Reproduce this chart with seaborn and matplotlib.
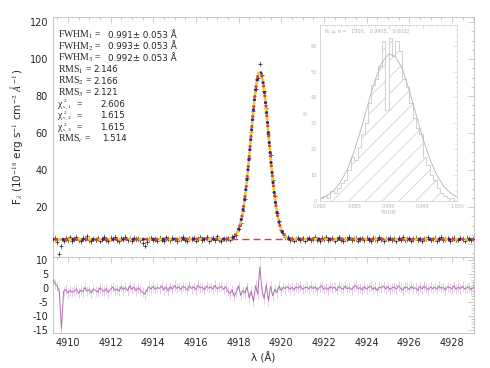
import numpy as np
import pandas as pd
import seaborn as sns
import matplotlib.pyplot as plt
from matplotlib.ticker import MultipleLocator, FuncFormatter

# spectrum grid (Angstrom)
wave_start = 4909.3
wave_step = 0.1

# observed flux, 10^-18 erg/s/cm2/A
flux = [
    2.8, 3.4, 1.2, -5.2, -1.0, 1.9, 3.1, 2.2, 3.6, 1.8,
    2.6, 3.9, 2.0, 1.4, 3.2, 2.9, 4.1, 2.3, 1.7, 3.0,
    2.4, 3.5, 1.9, 2.8, 3.7, 2.1, 1.6, 3.3, 2.7, 4.0,
    2.2, 1.8, 3.1, 2.5, 3.8, 2.0, 2.9, 1.5, 3.4, 2.6,
    3.0, 2.3, 0.4, -0.9, 1.2, 2.8, 3.5, 2.1, 2.6, 1.9,
    3.3, 2.4, 1.7, 3.6, 2.9, 2.0, 3.2, 2.5, 1.4, 3.0,
    2.7, 3.9, 2.2, 1.8, 3.1, 2.6, 3.4, 1.9, 2.8, 3.6,
    2.1, 2.5, 3.8, 1.6, 2.9, 3.3, 2.0, 4.2, 2.4, 1.7,
    3.0, 2.6, 3.1, 2.4, 3.8, 4.5, 5.0, 8.3, 11.2, 17.9,
    24.6, 35.8, 46.5, 60.7, 72.1, 84.0, 89.8, 97.5, 91.2, 82.6,
    73.4, 59.5, 47.9, 34.6, 25.8, 16.9, 12.2, 7.4, 5.9, 3.7,
    3.6, 2.2, 3.0, 1.9, 2.7, 3.4, 2.3, 3.1, 1.8, 2.9,
    3.5, 2.0, 2.6, 3.7, 2.2, 1.6, 3.2, 2.8, 3.9, 2.1,
    2.5, 3.3, 1.8, 2.9, 3.6, 2.4, 1.5, 3.0, 2.7, 3.8,
    2.2, 2.9, 3.4, 1.9, 2.6, 3.1, 2.0, 3.5, 2.4, 1.7,
    3.2, 2.8, 2.1, 3.9, 2.5, 1.8, 3.0, 2.6, 3.4, 2.2,
    2.9, 1.6, 3.3, 2.4, 3.7, 2.0, 2.7, 3.1, 1.9, 2.8,
    3.5, 2.3, 2.6, 1.4, 3.0, 2.9, 3.6, 2.1, 2.5, 3.3,
    1.8, 2.7, 3.9, 2.2, 2.6, 3.1, 1.7, 2.9, 3.4, 2.4,
    2.0, 3.2, 2.6, 1.9, 3.5, 2.8, 2.3, 3.0, 2.5, 3.6,
]
flux_err = 1.5

# residuals (data - model)
resid = [
    3.2, 1.5, 0.8, -1.5, -14.5, -1.2, -0.5, -1.8, -0.9, -1.5,
    -1.0, -0.4, -1.9, -0.8, -1.3, 0.2, -1.1, -0.6, -1.7, -0.3,
    -0.9, -1.4, 0.1, -0.7, -1.2, -0.2, -1.6, -0.5, 0.4, -0.8,
    -0.3, -1.1, 0.5, -0.6, 0.2, -0.9, 0.8, -0.4, 0.3, -1.0,
    0.1, -0.7, -1.5, -2.2, -0.8, 0.4, -0.3, 0.6, -0.5, 0.2,
    -0.2, 0.7, -0.6, 0.3, -1.0, 0.5, -0.4, 0.9, -0.1, 0.4,
    -0.5, 0.6, 0.1, -0.8, 0.8, -0.2, 0.4, -0.6, 1.0, 0.0,
    0.3, -0.7, 0.7, -0.1, 0.5, -0.4, 0.9, -0.3, 0.2, 0.6,
    -0.5, 0.4, -1.2, -2.0, -0.6, -3.0, -1.4, 0.8, -2.6, -0.9,
    -1.8, 0.5, -3.5, -1.2, -4.8, 0.9, -2.2, 7.5, -1.0, -3.8,
    1.2, -4.5, 0.6, -2.8, -0.4, -1.6, 0.7, -0.9, 0.3, -0.2,
    0.5, -0.4, 0.2, -0.6, 0.4, -0.1, 0.7, -0.5, 0.1, 0.3,
    -0.3, 0.6, -0.2, 0.4, -0.7, 0.2, 0.8, -0.4, 0.1, -0.6,
    0.5, -0.1, 0.3, -0.8, 0.6, 0.0, -0.5, 0.7, -0.3, 0.2,
    -0.6, 0.4, 0.9, -0.2, 0.1, -0.7, 0.5, -0.4, 0.3, 0.6,
    -0.5, 0.2, -0.9, 0.4, 0.0, 0.7, -0.3, 0.5, -0.6, 0.1,
    0.3, -0.4, 0.8, -0.1, -0.7, 0.4, 0.2, -0.5, 0.6, -0.2,
    0.1, -0.8, 0.5, -0.3, 0.7, 0.0, -0.6, 0.4, -0.2, 0.3,
    -0.4, 0.6, -0.1, 0.2, -0.7, 0.5, 0.1, -0.3, 0.8, -0.5,
    0.3, -0.2, 0.6, -0.4, 0.1, 0.5, -0.6, 0.2, 0.7, -0.1,
]
resid_err = 1.8

continuum = 2.5

# fitted line profile, 4917.5 - 4920.5 A every 0.05 A (same for the 3 fits)
line_start = 4917.5
line_step = 0.05
model_line = [
    2.7, 2.7, 2.9, 3.0, 3.3, 3.6, 4.1, 4.7, 5.5, 6.5,
    7.9, 9.6, 11.7, 14.3, 17.4, 21.0, 25.2, 30.0, 35.3, 41.0,
    47.2, 53.6, 60.1, 66.5, 72.7, 78.4, 83.3, 87.4, 90.5, 92.4,
    93.0,
    92.4, 90.5, 87.4, 83.3, 78.4, 72.7, 66.5, 60.1, 53.6, 47.2,
    41.0, 35.3, 30.0, 25.2, 21.0, 17.4, 14.3, 11.7, 9.6, 7.9,
    6.5, 5.5, 4.7, 4.1, 3.6, 3.3, 3.0, 2.9, 2.7, 2.7,
]
model_colors = ['#2e2a88', '#f2cc1a', '#e8401c']

# fit statistics block, upper left
stat_names = [r'FWHM$_1$ =', r'FWHM$_2$ =', r'FWHM$_3$ =',
              r'RMS$_1$ =', r'RMS$_2$ =', r'RMS$_3$ =',
              'chi:1', 'chi:2', 'chi:3',
              r'RMS$_c$ =']
stat_values = ['0.991\u00b1 0.053 \u00c5', '0.993\u00b1 0.053 \u00c5', '0.992\u00b1 0.053 \u00c5',
               '2.146', '2.166', '2.121', '2.606', '1.615', '1.615', '1.514']

# Monte Carlo FWHM histogram (inset)
fwhm_bin_lo = 0.980
fwhm_bin_hi = 1.000
fwhm_bin_width = 0.0005
fwhm_counts = [1, 2, 1, 4, 3, 5, 7, 8, 12, 17,
               16, 21, 26, 30, 38, 45, 47, 52, 62, 35,
               63, 56, 62, 58, 47, 44, 38, 32, 28, 26,
               17, 14, 10, 8, 5, 3, 2, 1, 1, 0]
fit_x = [0.980, 0.981, 0.982, 0.983, 0.984, 0.985, 0.986, 0.987, 0.988, 0.989, 0.990,
         0.991, 0.992, 0.993, 0.994, 0.995, 0.996, 0.997, 0.998, 0.999, 1.000]
fit_y = [0.9, 2.0, 4.0, 7.3, 12.3, 19.3, 27.9, 37.5, 46.5, 53.4, 56.8,
         55.9, 51.0, 43.0, 33.6, 24.2, 16.3, 10.1, 5.8, 3.1, 1.5]
inset_note = 'N, \u03bc, \u03c3 =   1000,   0.9905,   0.0032'

sns.set_style('white')
plt.rcParams['font.family'] = ['DejaVu Sans']
plt.rcParams['mathtext.fontset'] = 'stix'
plt.rcParams['axes.unicode_minus'] = False
plt.rcParams['hatch.linewidth'] = 0.5

wave = wave_start + wave_step * np.arange(len(flux))
line_wave = line_start + line_step * np.arange(len(model_line))
model_wave = np.concatenate([[wave[0]], line_wave, [wave[-1]]])
model_flux = np.concatenate([[continuum], model_line, [continuum]])

frame = '#c4c4c4'
fig = plt.figure(figsize=(4.9, 3.68), dpi=100)
ax = fig.add_axes([0.108, 0.3016, 0.859, 0.6522])
axr = fig.add_axes([0.108, 0.0951, 0.859, 0.2065], sharex=ax)

# upper panel: data, fits, continuum
ax.errorbar(wave, flux, yerr=flux_err, fmt='none', ecolor='#8a8a8a', elinewidth=0.5, zorder=2)
sns.scatterplot(x=wave, y=flux, marker='+', color='#222222', s=8, linewidth=0.5, ax=ax, zorder=3)
ax.axhline(continuum, color='#ff3030', lw=1.0, ls=(0, (5, 3)), zorder=3)
for k, col in enumerate(model_colors):
    sns.lineplot(x=model_wave, y=model_flux, color=col, lw=2.4,
                 linestyle=(k * 1.0, (0.01, 3.0)), dash_capstyle='round',
                 ax=ax, zorder=4 + k)

serif = 'Liberation Serif'
value_x = [0.131, 0.131, 0.131, 0.095, 0.095, 0.095, 0.112, 0.112, 0.112, 0.117]
for i, (name, val) in enumerate(zip(stat_names, stat_values)):
    yy = 0.925 - i * 0.048
    if name.startswith('chi:'):
        # chi^2_{nu,k}: built from pieces so the stacked indices stay compact
        ax.text(0.011, yy, '\u03c7', transform=ax.transAxes, family=serif,
                size=7, va='center', ha='left')
        ax.text(0.025, yy + 0.011, '2', transform=ax.transAxes, family=serif,
                size=3.8, va='center', ha='left')
        ax.text(0.025, yy - 0.011, '\u03bd, ' + name[4:], transform=ax.transAxes,
                family=serif, size=3.8, va='center', ha='left')
        ax.text(0.056, yy, '=', transform=ax.transAxes, family=serif,
                size=7, va='center', ha='left')
    else:
        ax.text(0.011, yy, name, transform=ax.transAxes, family=serif,
                size=7, va='center', ha='left')
    ax.text(value_x[i], yy, val, transform=ax.transAxes, size=6.3, va='center', ha='left')

ax.set_xlim(4909.3, 4929.03)
ax.set_ylim(-7, 122.7)
ax.yaxis.set_major_locator(MultipleLocator(20))
ax.yaxis.set_minor_locator(MultipleLocator(5))
ax.yaxis.set_major_formatter(FuncFormatter(lambda v, p: '' if v <= 0 else f'{v:.0f}'))
ax.set_ylabel(r'F$_\lambda$ (10$^{-18}$ erg s$^{-1}$ cm$^{-2}$ $\AA^{-1}$)', size=7.5, labelpad=3)
ax.set_xlabel('')
ax.tick_params(labelbottom=False)

# lower panel: residuals
axr.errorbar(wave, resid, yerr=resid_err, fmt='none', ecolor='#ddb8dd', elinewidth=0.5, zorder=2)
sns.lineplot(x=wave, y=resid, color='#b070b0', lw=0.7, ax=axr, zorder=3)
axr.set_ylim(-16.1, 11.1)
axr.yaxis.set_major_locator(MultipleLocator(5))
axr.yaxis.set_minor_locator(MultipleLocator(1))
axr.xaxis.set_major_locator(MultipleLocator(2))
axr.xaxis.set_minor_locator(MultipleLocator(0.5))
axr.set_xlabel('\u03bb (\u00c5)', size=7.5, labelpad=3)

for a in (ax, axr):
    a.tick_params(which='both', direction='in', top=True, right=True, color=frame,
                  labelsize=7, width=0.6)
    a.tick_params(which='major', length=4)
    a.tick_params(which='minor', length=2)
    for s in a.spines.values():
        s.set_color(frame)
        s.set_linewidth(0.7)

# inset: distribution of FWHM
axin = fig.add_axes([0.653, 0.454, 0.280, 0.478])
centers = fwhm_bin_lo + fwhm_bin_width * (np.arange(len(fwhm_counts)) + 0.5)
hist_df = pd.DataFrame({'fwhm': centers, 'n': fwhm_counts})
sns.histplot(data=hist_df, x='fwhm', weights='n', binwidth=fwhm_bin_width,
             binrange=(fwhm_bin_lo, fwhm_bin_hi), element='step', fill=True,
             color='#c8c8c8', hatch='//', linewidth=0.6, ax=axin)
for coll in axin.collections:
    coll.set_facecolor('none')
    coll.set_edgecolor('#cacaca')
sns.lineplot(x=fit_x, y=fit_y, color='#b4b4b4', lw=0.6, ax=axin)
axin.set_xlim(0.980, 1.000)
axin.set_ylim(0, 68)
axin.xaxis.set_major_locator(MultipleLocator(0.005))
axin.xaxis.set_minor_locator(MultipleLocator(0.001))
axin.yaxis.set_major_locator(MultipleLocator(10))
axin.yaxis.set_minor_locator(MultipleLocator(2))
axin.xaxis.set_major_formatter(FuncFormatter(lambda v, p: f'{v:.3f}'))
axin.set_xlabel('FWHM', size=3.5, color='#b8b8b8', labelpad=1)
axin.set_ylabel('N', size=3.5, color='#b8b8b8', labelpad=2)
axin.text(0.04, 0.975, inset_note, transform=axin.transAxes, size=3.5, color='#b0b0b0',
          va='top', ha='left')
axin.tick_params(which='both', direction='in', top=True, right=True, color='#cccccc',
                 labelcolor='#b8b8b8', labelsize=3.5, width=0.4, pad=2)
axin.tick_params(which='major', length=3)
axin.tick_params(which='minor', length=1.5)
for s in axin.spines.values():
    s.set_color('#cccccc')
    s.set_linewidth(0.5)

fig.savefig('out.png', dpi=100)
